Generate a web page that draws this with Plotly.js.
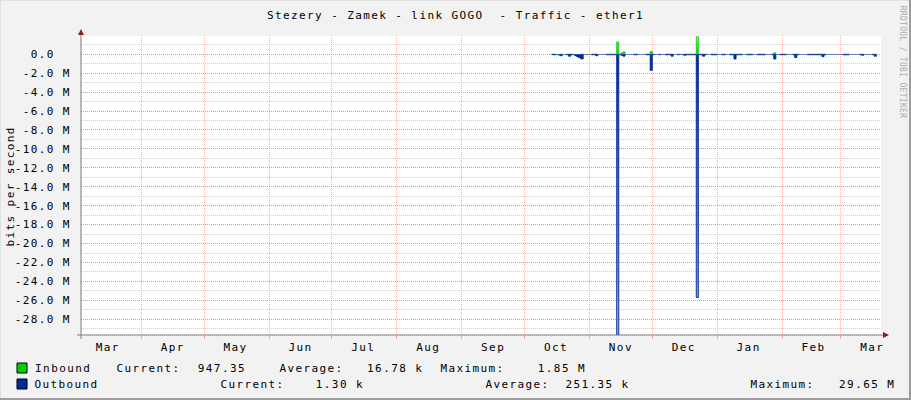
<!DOCTYPE html>
<html>
<head>
<meta charset="utf-8">
<script src="https://cdn.plot.ly/plotly-3.0.1.min.js"></script>
<style>
  html, body { margin: 0; padding: 0; background: #F2F2F2; }
  #chart { width: 911px; height: 400px; }
  .main-svg text { letter-spacing: 1.4px; }
</style>
</head>
<body>
<div id="chart"></div>
<script>
// ---------------- DATA ----------------
const chartTitle = 'Stezery - Zamek - link GOGO  - Traffic - ether1';
const yAxisTitle = 'bits per second';
const watermark = 'RRDTOOL / TOBI OETIKER';

// daily samples, first day 2014-10-14 (values in Mbit/s, null = no data)
const firstDay = '2014-10-14';
const inOct = [0.01,0.01,0.01,null,0.02,0.01,null,0.01,0.02,0.01,0.01,null,null,null,0.02,0.01,null,null];
const inNov = [null,0.01,0.01,0.02,0.01,null,null,null,0.01,0.01,0.01,0.01,0.01,1.3,0.01,null,0.25,0.01,null,null,null,0.01,0.01,0.01,null,null,null,0.01,0.01,0.3];
const inDec = [0.01,0.01,null,0.01,0.01,null,0.01,0.01,0.01,0.02,0.01,null,0.01,0.01,null,0.01,0.01,0.01,0.01,0.01,0.01,1.85,0.01,0.01,0.02,0.01,0.01,null,0.01,0.01,0.01];
const inJan = [0.01,null,0.01,0.01,0.01,null,0.01,0.01,0.02,0.01,0.01,0.01,0.01,null,0.01,0.01,0.01,0.01,null,0.01,0.01,0.01,0.01,0.01,null,null,0.01,0.15,0.01,null,0.01];
const inFeb = [0.01,0.01,0.01,null,null,0.01,0.02,0.01,0.01,null,null,null,0.01,0.01,0.01,0.01,0.01,0.01,0.01,0.02,0.01,0.01,null,null,null,null,null,null];
const inMar = [null,0.01,0.01,0.01,0.01,null,null,null,null,0.01,0.01,0.01,null,null,null,0.01,0.02,0.01];

const outOct = [0.04,0.05,0.06,null,0.15,0.05,null,0.05,0.2,0.05,0.05,null,null,null,0.5,0.05,null,null];
const outNov = [null,0.05,0.05,0.15,0.05,null,null,null,0.05,0.05,0.05,0.05,0.05,29.65,0.05,null,0.2,0.05,null,null,null,0.05,0.05,0.05,null,null,null,0.05,0.05,1.7];
const outDec = [0.05,0.05,null,0.05,0.05,null,0.05,0.05,0.05,0.2,0.05,null,0.05,0.05,null,0.1,0.05,0.05,0.05,0.05,0.05,25.7,0.05,0.05,0.2,0.05,0.05,null,0.05,0.05,0.05];
const outJan = [0.05,null,0.05,0.05,0.05,null,0.05,0.05,0.5,0.05,0.05,0.05,0.05,null,0.05,0.05,0.05,0.05,null,0.05,0.05,0.05,0.05,0.05,null,null,0.05,0.5,0.05,null,0.05];
const outFeb = [0.05,0.05,0.05,null,null,0.05,0.35,0.05,0.05,null,null,null,0.05,0.05,0.05,0.05,0.05,0.05,0.05,0.25,0.05,0.05,null,null,null,null,null,null];
const outMar = [null,0.05,0.05,0.05,0.05,null,null,null,null,0.05,0.1,0.05,null,null,null,0.05,0.2,0.05];

const monthLabels = ['Mar','Apr','May','Jun','Jul','Aug','Sep','Oct','Nov','Dec','Jan','Feb','Mar'];
const monthMids = ['2014-03-16','2014-04-16','2014-05-16','2014-06-16','2014-07-16','2014-08-16','2014-09-16','2014-10-16','2014-11-16','2014-12-16','2015-01-16','2015-02-16','2015-03-16'];
const monthStarts = ['2014-04-01','2014-05-01','2014-06-01','2014-07-01','2014-08-01','2014-09-01','2014-10-01','2014-11-01','2014-12-01','2015-01-01','2015-02-01','2015-03-01'];
const xRange = ['2014-03-03 05:00','2015-03-20 05:00'];

const yTickVals = [0,-2,-4,-6,-8,-10,-12,-14,-16,-18,-20,-22,-24,-26,-28];
const yTickText = ['0.0\u00a0\u00a0','-2.0 M','-4.0 M','-6.0 M','-8.0 M','-10.0 M','-12.0 M','-14.0 M','-16.0 M','-18.0 M','-20.0 M','-22.0 M','-24.0 M','-26.0 M','-28.0 M'];
const yRange = [-29.66, 1.93];

const seriesNames = ['Inbound','Outbound'];
const seriesColors = ['#00CF00','#002A97'];
const statLabels = ['Current:','Average:','Maximum:'];
const inStats = ['947.35','16.78 k','1.85 M'];
const outStats = ['1.30 k','251.35 k','29.65 M'];

// ---------------- BUILD ----------------
const inbound = [].concat(inOct, inNov, inDec, inJan, inFeb, inMar);
const outbound = [].concat(outOct, outNov, outDec, outJan, outFeb, outMar);
const t0 = Date.parse(firstDay + 'T00:00:00Z');
const days = inbound.map((_, i) => new Date(t0 + i * 86400000).toISOString().slice(0, 10));
const outNeg = outbound.map(v => v === null ? null : -v);

const FONT = 'DejaVu Sans Mono';
const L = 81, T = 36, PW = 800, PH = 299, B = T + PH;
const px = x => (x - L) / PW;
const py = y => (B - y) / PH;

const traces = [
  {
    x: days, y: inbound, type: 'scatter', mode: 'lines', name: seriesNames[0],
    line: {color: seriesColors[0], width: 0.8, shape: 'hv'},
    fill: 'tozeroy',
    fillgradient: {type: 'vertical', start: 0, stop: 1.93, colorscale: [[0, '#00CF00'], [1, '#9FEA9F']]},
    connectgaps: false, hoverinfo: 'skip'
  },
  {
    x: days, y: outNeg, type: 'scatter', mode: 'lines', name: seriesNames[1],
    line: {color: seriesColors[1], width: 0.9, shape: 'hv'},
    fill: 'tozeroy',
    fillgradient: {type: 'vertical', start: -29.66, stop: 0, colorscale: [[0, '#A3AFDA'], [1, '#002A97']]},
    connectgaps: false, hoverinfo: 'skip'
  }
];

const txtFont = {family: FONT, size: 11, color: '#000'};
const ann = [];
function addText(text, x, y, anchor, extra) {
  ann.push(Object.assign({text: text, xref: 'paper', yref: 'paper', x: px(x), y: py(y),
    xanchor: anchor, yanchor: 'middle', showarrow: false, font: txtFont}, extra || {}));
}
addText(yAxisTitle, 10, 187, 'center', {textangle: -90});
addText(watermark, 903, 62, 'center', {textangle: 90, font: {family: FONT, size: 8, color: '#ABABAB'}});

// legend rows
const rowY = [368, 384];
const statsRows = [inStats, outStats];
const LSH = 3.5; // compensation for annotation box padding
const labelX = [[116, 279, 440], [220, 485, 750]];
const valueX = [[244, 421, 584], [362, 626, 893]];
for (let r = 0; r < 2; r++) {
  addText(seriesNames[r], 34 + LSH, rowY[r], 'left');
  for (let k = 0; k < 3; k++) {
    addText(statLabels[k], labelX[r][k] + LSH, rowY[r], 'left');
    addText(statsRows[r][k], valueX[r][k], rowY[r], 'right');
  }
}

const shapes = [];
// swatches
for (let r = 0; r < 2; r++) {
  shapes.push({type: 'rect', xref: 'paper', yref: 'paper', x0: px(17), x1: px(27), y0: py(rowY[r] + 5), y1: py(rowY[r] - 5),
    fillcolor: seriesColors[r], line: {color: '#000', width: 1}});
}
// axes
const axisCol = '#7A7A7A', arrowCol = '#9A1A1A';
shapes.push({type: 'line', xref: 'paper', yref: 'paper', x0: px(81), x1: px(81), y0: py(339), y1: py(31), line: {color: axisCol, width: 1}});
shapes.push({type: 'line', xref: 'paper', yref: 'paper', x0: px(77), x1: px(884), y0: py(335), y1: py(335), line: {color: axisCol, width: 1}});
shapes.push({type: 'path', xref: 'paper', yref: 'paper',
  path: `M ${px(81)},${py(29)} L ${px(78)},${py(35)} L ${px(84)},${py(35)} Z`, fillcolor: arrowCol, line: {width: 0}});
shapes.push({type: 'path', xref: 'paper', yref: 'paper',
  path: `M ${px(889)},${py(335)} L ${px(883)},${py(332)} L ${px(883)},${py(338)} Z`, fillcolor: arrowCol, line: {width: 0}});
// frame
shapes.push({type: 'line', xref: 'paper', yref: 'paper', x0: px(0), x1: px(911), y0: py(0.5), y1: py(0.5), line: {color: '#E0E0E0', width: 1}});
shapes.push({type: 'line', xref: 'paper', yref: 'paper', x0: px(0.5), x1: px(0.5), y0: py(0), y1: py(400), line: {color: '#E0E0E0', width: 1}});
shapes.push({type: 'line', xref: 'paper', yref: 'paper', x0: px(0), x1: px(911), y0: py(399), y1: py(399), line: {color: '#9C9C9C', width: 2}});
shapes.push({type: 'line', xref: 'paper', yref: 'paper', x0: px(910), x1: px(910), y0: py(0), y1: py(400), line: {color: '#9C9C9C', width: 2}});

const majorGrid = 'rgba(235,70,70,0.42)';
const layout = {
  width: 911, height: 400,
  margin: {l: L, r: 911 - L - PW, t: T, b: 400 - B, pad: 0},
  paper_bgcolor: '#F2F2F2', plot_bgcolor: '#FFFFFF',
  showlegend: false,
  title: {text: chartTitle, x: 0.5, xref: 'container', xanchor: 'center', y: 1 - 15 / 400, yref: 'container', yanchor: 'middle',
    font: {family: FONT, size: 11, color: '#000'}},
  xaxis: {
    type: 'date', range: xRange, fixedrange: true,
    tickmode: 'array', tickvals: monthMids, ticktext: monthLabels,
    ticks: 'outside', ticklen: 2, tickcolor: 'rgba(0,0,0,0)',
    showgrid: false, zeroline: false, showline: false,
    tickfont: {family: FONT, size: 11, color: '#000'},
    minor: {tickmode: 'array', tickvals: monthStarts, showgrid: true, gridcolor: majorGrid, griddash: '1px,1px', gridwidth: 1,
      ticks: 'outside', ticklen: 3, tickcolor: majorGrid, tickwidth: 1}
  },
  yaxis: {
    range: yRange, fixedrange: true,
    tickmode: 'array', tickvals: yTickVals, ticktext: yTickText,
    ticks: 'outside', ticklen: 7, tickcolor: 'rgba(0,0,0,0)',
    showgrid: true, gridcolor: majorGrid, griddash: '1px,1px', gridwidth: 1,
    zeroline: false, showline: false,
    tickfont: {family: FONT, size: 11, color: '#000'},
    minor: {tickmode: 'linear', tick0: 0, dtick: 1, showgrid: true, gridcolor: '#CFCFCF', griddash: '1px,1px', gridwidth: 1}
  },
  annotations: ann,
  shapes: shapes
};

Plotly.newPlot('chart', traces, layout, {staticPlot: true, displayModeBar: false}).then(() => {
  document.querySelectorAll('.annotation-text').forEach(el => {
    if (el.textContent.indexOf('RRDTOOL') === 0) el.style.letterSpacing = '0.3px';
  });
});
</script>
</body>
</html>
